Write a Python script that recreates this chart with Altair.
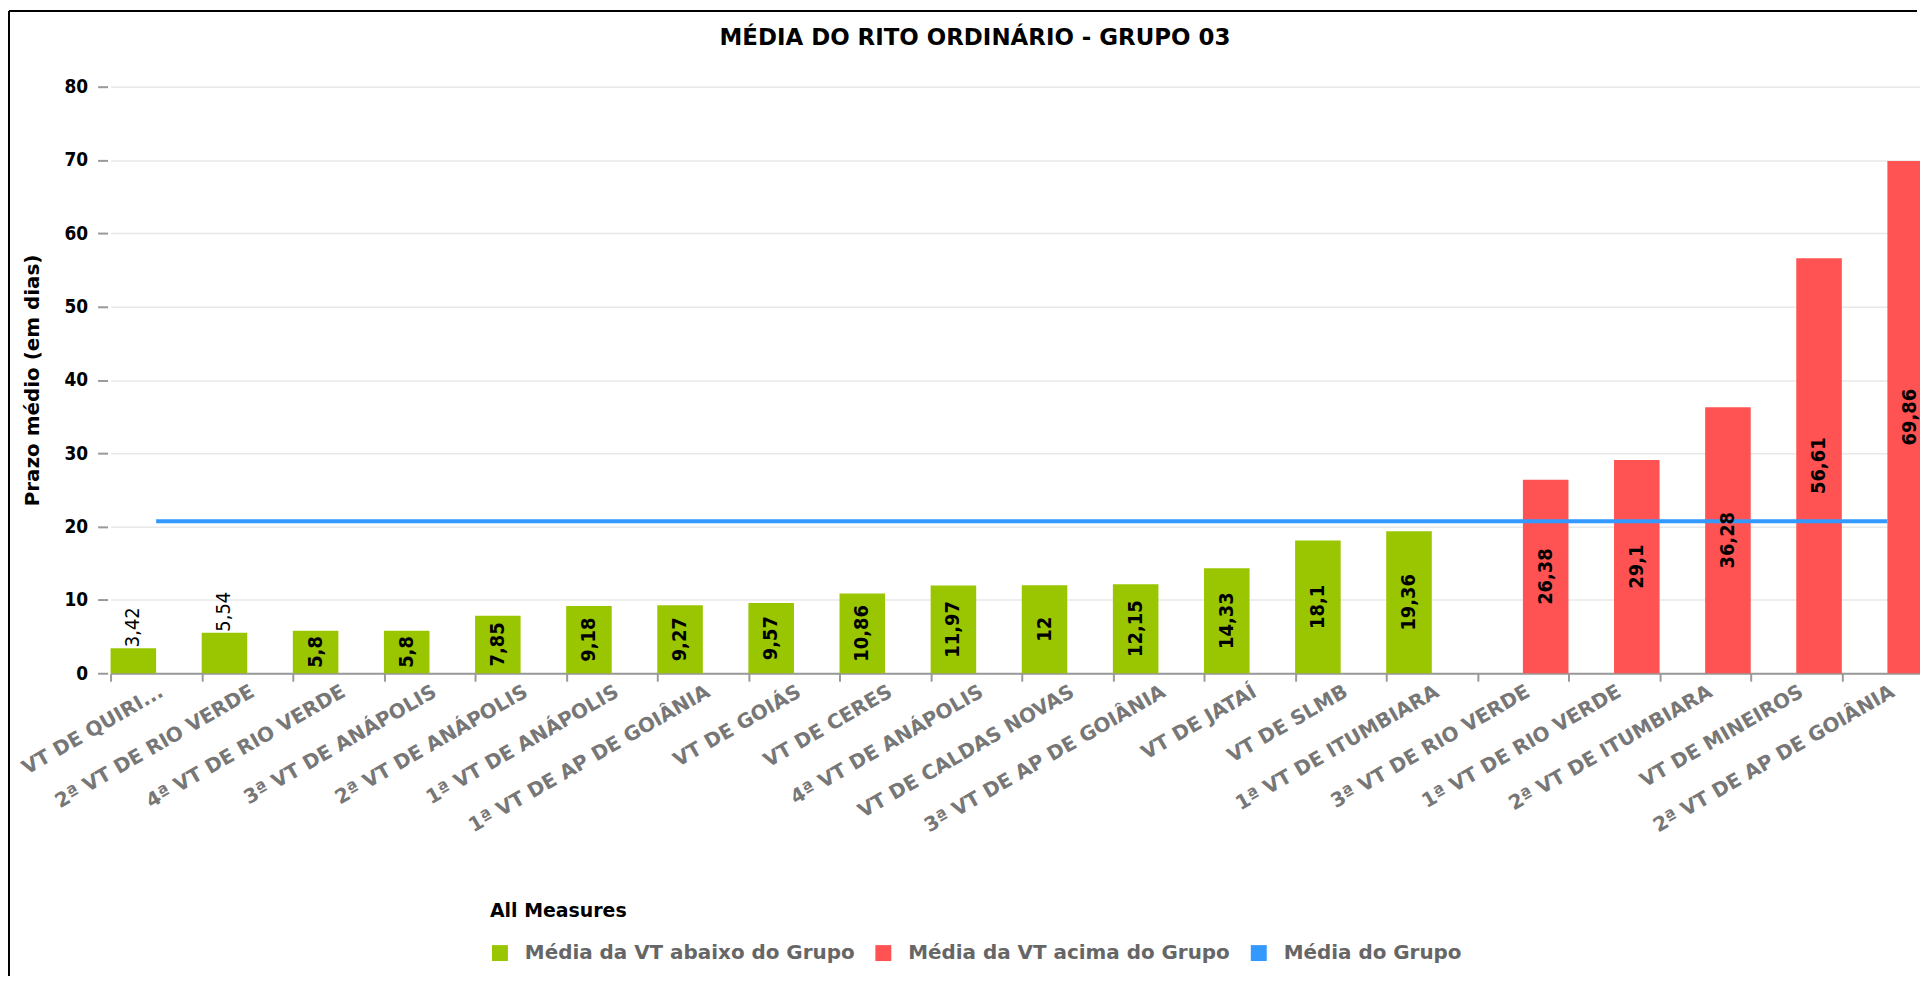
import altair as alt
import pandas as pd

TITULO = "MÉDIA DO RITO ORDINÁRIO - GRUPO 03"
TITULO_Y = "Prazo médio (em dias)"
TITULO_LEGENDA = "All Measures"

categorias = [
    "VT DE QUIRI...", "2ª VT DE RIO VERDE", "4ª VT DE RIO VERDE", "3ª VT DE ANÁPOLIS",
    "2ª VT DE ANÁPOLIS", "1ª VT DE ANÁPOLIS", "1ª VT DE AP DE GOIÂNIA", "VT DE GOIÁS",
    "VT DE CERES", "4ª VT DE ANÁPOLIS", "VT DE CALDAS NOVAS", "3ª VT DE AP DE GOIÂNIA",
    "VT DE JATAÍ", "VT DE SLMB", "1ª VT DE ITUMBIARA", "3ª VT DE RIO VERDE",
    "1ª VT DE RIO VERDE", "2ª VT DE ITUMBIARA", "VT DE MINEIROS", "2ª VT DE AP DE GOIÂNIA",
]
valores = [3.42, 5.54, 5.8, 5.8, 7.85, 9.18, 9.27, 9.57, 10.86, 11.97,
           12, 12.15, 14.33, 18.1, 19.36, 26.38, 29.1, 36.28, 56.61, 69.86]
media_grupo = 20.72

series = ["Média da VT abaixo do Grupo", "Média da VT acima do Grupo", "Média do Grupo"]
cores = ["#99C600", "#FF5353", "#3399FF"]
y_ticks = [0, 10, 20, 30, 40, 50, 60, 70, 80]

df = pd.DataFrame({
    "vt": categorias,
    "valor": valores,
    "serie": [series[1] if v > media_grupo else series[0] for v in valores],
    "label": [f"{v:g}".replace(".", ",") for v in valores],
})
df_media = pd.DataFrame({"vt": categorias, "media": [media_grupo] * len(categorias)})
df_um = pd.DataFrame({"t": [TITULO]})

W, H = 1816, 589
PL, PT, PB = 103, 77, 304
FAIXA = 1830  # x range, wider than the visible plot: the last bar is cut at the window edge

fonte_num = "DejaVu Sans Condensed, DejaVu Sans"

x_enc = alt.X("vt:N", sort=categorias, title=None,
              scale=alt.Scale(paddingInner=0, paddingOuter=0, range=[0, FAIXA]),
              axis=alt.Axis(labelAngle=-30, labelAlign="right", labelBaseline="top",
                            labelPadding=0, labelFont="DejaVu Sans", labelFontSize=20,
                            labelFontWeight="bold", labelColor="#777777", labelLimit=500,
                            labelOverlap=False, tickBand="extent", tickSize=8, tickWidth=2,
                            tickColor="#999999", domainColor="#999999", domainWidth=2,
                            grid=False))
xoff_enc = alt.XOffset("serie:N", scale=alt.Scale(domain=series[:2], paddingInner=0, paddingOuter=0))
y_scale = alt.Scale(domain=[0, 80])

borda_esq = alt.Chart(df_um).mark_rule(color="black", strokeWidth=2).encode(
    x=alt.value(1 - PL), y=alt.value(1 - PT), y2=alt.value(H + PB))
borda_topo = alt.Chart(df_um).mark_rule(color="black", strokeWidth=2).encode(
    x=alt.value(1 - PL), x2=alt.value(W - 2), y=alt.value(1 - PT))

bars = alt.Chart(df).mark_bar().encode(
    x=x_enc,
    xOffset=xoff_enc,
    y=alt.Y("valor:Q", scale=y_scale, title=TITULO_Y,
            axis=alt.Axis(values=y_ticks, domain=False, offset=3, tickSize=10, tickWidth=2,
                          tickColor="#999999", labelPadding=10,
                          labelFont=fonte_num, labelFontSize=19, labelFontWeight="bold",
                          labelColor="black", gridColor="#e8e8e8", gridWidth=1.5,
                          titleFont="DejaVu Sans", titleFontSize=20, titleFontWeight="bold",
                          titleColor="black", titlePadding=22)),
    color=alt.Color("serie:N", scale=alt.Scale(domain=series, range=cores),
                    legend=alt.Legend(title=TITULO_LEGENDA, orient="none", legendX=381, legendY=819,
                                      direction="horizontal", symbolType="square", symbolSize=256,
                                      symbolStrokeWidth=0, symbolOpacity=1,
                                      labelFont="DejaVu Sans", labelFontSize=20, labelFontWeight="bold",
                                      labelColor="#666666", labelOffset=15, columnPadding=18,
                                      labelLimit=600,
                                      titleFont="DejaVu Sans", titleFontSize=19, titleFontWeight="bold",
                                      titleColor="black", titlePadding=22)),
)

linha = alt.Chart(df_media).mark_line(color=cores[2], strokeWidth=4).encode(
    x=alt.X("vt:N", sort=categorias, title=None),
    y=alt.Y("media:Q", scale=y_scale, title=TITULO_Y),
)

base_txt = alt.Chart(df).transform_calculate(
    meio="datum.valor / 2",
    cabe=f"length(datum.label) * 12 < datum.valor * {H / 80}",
)
dentro = base_txt.transform_filter("datum.cabe").mark_text(
    angle=270, align="center", baseline="middle", font=fonte_num, fontSize=20,
    fontWeight="bold", color="black").encode(
    x=alt.X("vt:N", sort=categorias, title=None),
    xOffset=xoff_enc,
    y=alt.Y("meio:Q", scale=y_scale, title=TITULO_Y),
    text="label:N",
)
fora = base_txt.transform_filter("!datum.cabe").mark_text(
    angle=270, align="left", baseline="middle", dx=1, font=fonte_num, fontSize=20,
    fontWeight="normal", color="black").encode(
    x=alt.X("vt:N", sort=categorias, title=None),
    xOffset=xoff_enc,
    y=alt.Y("valor:Q", scale=y_scale, title=TITULO_Y),
    text="label:N",
)

titulo = alt.Chart(df_um).mark_text(
    font="DejaVu Sans", fontSize=23, fontWeight="bold", color="black",
    align="center", baseline="middle").encode(
    text="t:N", x=alt.value(868), y=alt.value(-49))

chart = alt.layer(borda_esq, borda_topo, bars, linha, dentro, fora, titulo).properties(
    width=W, height=H,
    autosize=alt.AutoSizeParams(type="none"),
    padding={"left": PL, "top": PT, "right": 1, "bottom": PB},
).configure_view(stroke=None)

chart.save("out.html", embed_options={"renderer": "svg", "actions": False})
